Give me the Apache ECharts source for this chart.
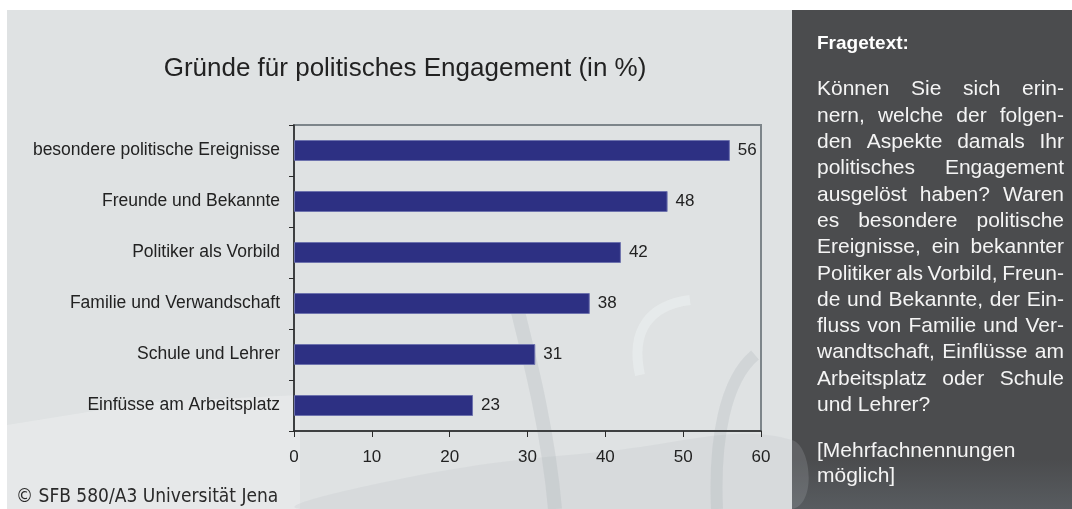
<!DOCTYPE html>
<html><head><meta charset="utf-8">
<script src="https://cdn.jsdelivr.net/npm/echarts@6/dist/echarts.min.js"></script>
<style>html,body{margin:0;padding:0;background:#fff}#c{width:1072px;height:509px}</style>
</head><body><div id="c"></div>
<script>
const chartTitle = 'Gründe für politisches Engagement (in %)';
const categories = ['besondere politische Ereignisse','Freunde und Bekannte','Politiker als Vorbild','Familie und Verwandschaft','Schule und Lehrer','Einfüsse am Arbeitsplatz'];
const values = [56, 48, 42, 38, 31, 23];
const xMin = 0, xMax = 60, xStep = 10;
const copyright = '© SFB 580/A3 Universität Jena';
const panelHeading = 'Fragetext:';
const panelLines = [
  ['Können Sie sich erin-', true],
  ['nern, welche der folgen-', true],
  ['den Aspekte damals Ihr', true],
  ['politisches Engagement', true],
  ['ausgelöst haben? Waren', true],
  ['es besondere politische', true],
  ['Ereignisse, ein bekannter', true],
  ['Politiker als Vorbild, Freun-', true],
  ['de und Bekannte, der Ein-', true],
  ['fluss von Familie und Ver-', true],
  ['wandtschaft, Einflüsse am', true],
  ['Arbeitsplatz oder Schule', true],
  ['und Lehrer?', false]
];
const panelNote = ['[Mehrfachnennungen', 'möglich]'];

const FONT = '"Liberation Sans", Arial, Helvetica, sans-serif';
const graphics = [];
// backgrounds
graphics.push({type:'rect', z:-10, shape:{x:0,y:0,width:1072,height:509}, style:{fill:'#ffffff'}});
graphics.push({type:'rect', z:-9, shape:{x:7,y:10,width:785,height:499}, style:{fill:'#dfe2e3'}});
// faint photo-like shapes
graphics.push({type:'polygon', z:-8, shape:{points:[[7,425],[150,402],[300,395],[300,509],[7,509]]}, style:{fill:'rgba(240,242,243,0.4)'}});
graphics.push({type:'polygon', z:-8, shape:{smooth:0.4, points:[[300,509],[420,475],[600,452],[792,440],[792,509]]}, style:{fill:'rgba(185,192,197,0.2)'}});
graphics.push({type:'bezierCurve', z:-8, shape:{x1:515,y1:300,cpx1:530,cpy1:360,cpx2:548,cpy2:430,x2:555,y2:509}, style:{stroke:'rgba(160,168,175,0.22)', lineWidth:14, fill:null}});
graphics.push({type:'bezierCurve', z:-8, shape:{x1:755,y1:355,cpx1:725,cpy1:380,cpx2:714,cpy2:440,x2:717,y2:509}, style:{stroke:'rgba(160,168,175,0.22)', lineWidth:12, fill:null}});
graphics.push({type:'bezierCurve', z:-8, shape:{x1:640,y1:375,cpx1:630,cpy1:330,cpx2:650,cpy2:305,x2:690,y2:300}, style:{stroke:'rgba(240,243,244,0.45)', lineWidth:10, fill:null}});
// dark panel
graphics.push({type:'rect', z:-9, shape:{x:792,y:10,width:280,height:499}, style:{fill:{type:'linear',x:0,y:0,x2:0,y2:1,colorStops:[{offset:0,color:'#4b4c4e'},{offset:0.9,color:'#4b4c4e'},{offset:1,color:'#585c60'}]}}});

// title
graphics.push({type:'text', x:405, y:69, style:{text:chartTitle, font:'26px '+FONT, fill:'#222', textAlign:'center', textVerticalAlign:'middle'}});
// copyright
graphics.push({type:'text', x:16, y:497, style:{text:copyright, font:'19px "Liberation Sans Narrow", "DejaVu Sans Condensed", '+FONT, fill:'#2a2a2a', textAlign:'left', textVerticalAlign:'middle'}});

// panel text
const ctx = document.createElement('canvas').getContext('2d');
const bodyFs = 21;
const bodyFont = bodyFs + 'px ' + FONT;
const px0 = 817, px1 = 1064;
graphics.push({type:'text', x:px0, y:44, style:{text:panelHeading, font:'bold 19px '+FONT, fill:'#ffffff', textAlign:'left', textVerticalAlign:'middle'}});
function addLine(str, baseline, justify){
  const yMid = baseline - 0.35*bodyFs;
  if(!justify){
    graphics.push({type:'text', x:px0, y:yMid, style:{text:str, font:bodyFont, fill:'#f4f4f4', textAlign:'left', textVerticalAlign:'middle'}});
    return;
  }
  ctx.font = bodyFont;
  const words = str.split(' ');
  const widths = words.map(w => ctx.measureText(w).width);
  const total = widths.reduce((a,b)=>a+b,0);
  const gap = (px1 - px0 - total) / (words.length - 1);
  let x = px0;
  words.forEach((w,i)=>{
    graphics.push({type:'text', x:x, y:yMid, style:{text:w, font:bodyFont, fill:'#f4f4f4', textAlign:'left', textVerticalAlign:'middle'}});
    x += widths[i] + gap;
  });
}
panelLines.forEach((l,i)=> addLine(l[0], 97 + i*26.3, l[1]));
panelNote.forEach((s,i)=> addLine(s, 459 + i*25, false));

const chart = echarts.init(document.getElementById('c'), null, {renderer:'canvas'});
chart.setOption({
  animation:false,
  backgroundColor:'transparent',
  graphic: graphics,
  grid:{left:294, top:125, width:467, height:306, show:true, borderColor:'#7d858a', borderWidth:2, backgroundColor:'transparent'},
  xAxis:{type:'value', min:xMin, max:xMax, interval:xStep,
    axisLine:{show:true, lineStyle:{color:'#2a2a2a', width:1.5}},
    axisTick:{show:true, length:6, lineStyle:{color:'#2a2a2a'}},
    splitLine:{show:false},
    axisLabel:{fontSize:17, color:'#222', margin:18, fontFamily:FONT}},
  yAxis:{type:'category', inverse:true, data:categories,
    axisLine:{show:true, lineStyle:{color:'#2a2a2a', width:1.5}},
    axisTick:{show:true, length:5, lineStyle:{color:'#2a2a2a'}},
    axisLabel:{fontSize:17.5, color:'#222', margin:14, fontFamily:FONT}},
  series:[{type:'bar', data:values, barWidth:21,
    itemStyle:{color:'#2d3083', borderColor:'#6d72ad', borderWidth:1},
    label:{show:true, position:'right', distance:8, fontSize:17, color:'#222', fontFamily:FONT}}]
});
</script></body></html>
